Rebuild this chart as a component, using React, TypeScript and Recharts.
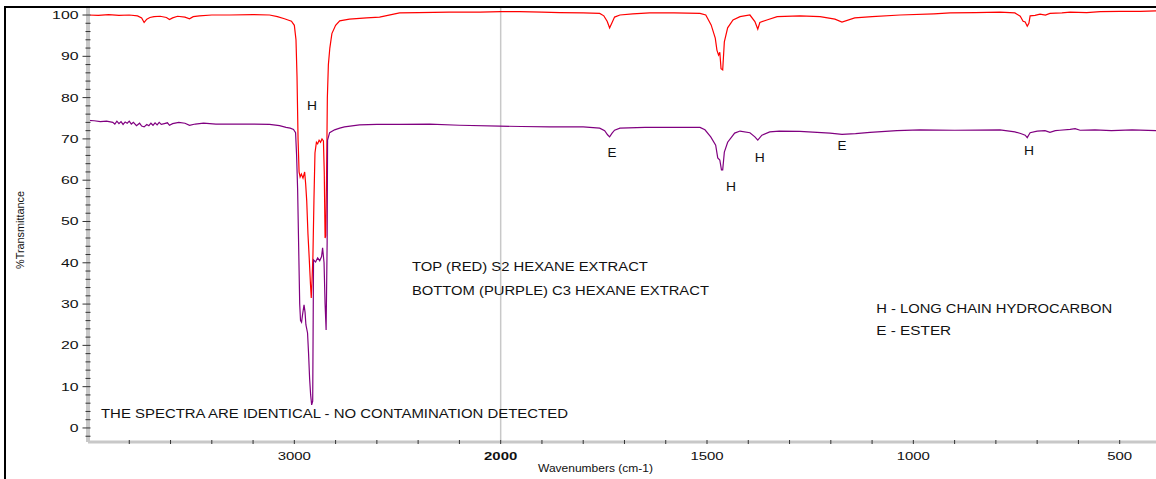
import { LineChart, Line, XAxis, YAxis, ReferenceLine, ReferenceDot } from 'recharts'

// top spectrum (red) - S2 hexane extract
const RED_WN = [
  4000, 3950, 3900, 3850, 3800, 3760, 3740, 3728, 3715, 3700, 3680, 3650, 3620, 3605, 3590, 3566,
  3530, 3508, 3490, 3460, 3400, 3314, 3200, 3120, 3082, 3048, 3014, 3000, 2992, 2987, 2982, 2977,
  2972, 2966, 2958, 2950, 2945, 2940, 2934, 2928, 2922, 2918, 2914, 2910, 2905, 2900, 2893, 2887,
  2880, 2873, 2866, 2859, 2855, 2851, 2848, 2844, 2840, 2835, 2828, 2818, 2800, 2780, 2733, 2650,
  2587, 2490, 2400, 2250, 2100, 2000, 1954, 1900, 1857, 1800, 1760, 1750, 1742, 1736, 1730, 1724,
  1711, 1680, 1639, 1580, 1517, 1503, 1490, 1480, 1476, 1472, 1469, 1466, 1462, 1458, 1450, 1437,
  1420, 1396, 1384, 1377, 1372, 1355, 1330, 1275, 1226, 1190, 1173, 1142, 1100, 1032, 950, 911,
  850, 790, 754, 741, 734, 729, 724, 720, 717, 705, 693, 680, 669, 640, 620, 580, 547, 500, 450, 412,
]
const RED_T = [
  100.0, 99.9, 100.1, 99.9, 100.0, 99.8, 99.3, 98.2, 99.0, 99.4, 99.6, 99.7, 99.4, 98.9, 99.3, 99.7,
  99.5, 99.1, 99.6, 99.8, 100.0, 100.0, 100.1, 100.0, 99.6, 99.1, 98.5, 97.5, 94, 85, 70, 62,
  60.8, 61.5, 60.5, 62, 59, 55, 47, 41.3, 35, 31.5, 36, 41.4, 55, 66.6, 69.2, 68.8,
  69.7, 69.2, 70.0, 69.5, 62, 46, 46.5, 60, 80, 88, 92, 95.5, 97.5, 98.6, 99.0, 99.3,
  99.5, 100.5, 100.6, 100.7, 100.7, 100.8, 100.8, 100.7, 100.6, 100.5, 100.4, 99.8, 98.5, 96.9, 98.2, 99.5,
  100.0, 100.3, 100.5, 100.5, 100.4, 100.0, 97.6, 94.4, 91.5, 90.3, 91, 87, 86.7, 93.5, 96.9, 98.8,
  99.6, 100.0, 98.4, 96.6, 98.2, 98.8, 99.6, 99.8, 99.6, 99.0, 98.3, 99.3, 99.6, 100.0, 100.3, 100.5,
  100.6, 100.7, 100.5, 99.7, 98.5, 98.3, 97.3, 98.0, 99.8, 99.9, 100.2, 100.0, 100.4, 100.5, 100.7, 100.6, 100.8, 100.9, 100.9, 101.0,
]

// bottom spectrum (purple) - C3 hexane extract
const PURPLE_WN = [
  4000, 3970, 3940, 3910, 3880, 3870, 3860, 3850, 3840, 3830, 3820, 3810, 3800, 3790, 3780, 3765,
  3750, 3740, 3728, 3715, 3705, 3695, 3685, 3675, 3665, 3655, 3645, 3630, 3615, 3605, 3590, 3560,
  3530, 3508, 3480, 3440, 3380, 3314, 3200, 3120, 3072, 3040, 3020, 3004, 2994, 2989, 2984, 2979,
  2974, 2970, 2965, 2960, 2953, 2948, 2944, 2936, 2931, 2926, 2921, 2916, 2911, 2907, 2897, 2887,
  2877, 2868, 2863, 2856, 2851, 2846, 2841, 2839, 2829, 2805, 2780, 2757, 2684, 2600, 2490, 2344,
  2200, 2005, 1950, 1881, 1800, 1760, 1748, 1741, 1736, 1730, 1724, 1711, 1650, 1614, 1517, 1505,
  1491, 1479, 1474, 1469, 1465, 1462, 1458, 1450, 1433, 1420, 1396, 1384, 1377, 1367, 1348, 1325,
  1275, 1202, 1173, 1140, 1105, 1040, 984, 900, 790, 754, 740, 729, 724, 720, 717, 700,
  681, 669, 656, 645, 620, 608, 596, 560, 520, 470, 412,
]
const PURPLE_T = [
  74.5, 74.4, 74.2, 74.3, 74.0, 73.6, 74.3, 73.7, 74.2, 73.5, 74.1, 73.8, 74.3, 73.6, 74.0, 73.2,
  73.8, 73.1, 72.9, 73.5, 73.2, 73.8, 73.3, 73.9, 73.4, 74.0, 73.5, 73.7, 73.9, 73.3, 73.7, 74.0,
  73.8, 73.3, 73.6, 73.8, 73.6, 73.6, 73.6, 73.5, 73.2, 72.8, 72.6, 72.3, 71.5, 66, 57.6, 43.8,
  30, 26, 25.6, 27.5, 29.8, 28, 25, 23, 18, 12, 8, 5.6, 6.5, 40.7, 40.2, 41.2,
  40.5, 41.5, 43.6, 40, 30, 23.7, 45, 69.7, 71.5, 72.2, 72.6, 72.9, 73.4, 73.5, 73.5, 73.6,
  73.3, 73.1, 73.0, 72.9, 72.9, 72.6, 72.0, 71.0, 70.5, 71.4, 72.1, 72.6, 72.8, 72.8, 72.8, 72.2,
  70.5, 68.5, 65.4, 64.9, 62.5, 62.5, 66.8, 69.2, 71.4, 71.9, 71.5, 70.5, 69.7, 70.9, 71.7, 71.9,
  71.8, 71.4, 71.1, 71.3, 71.6, 72.0, 72.2, 72.1, 72.2, 71.7, 71.3, 70.9, 70.3, 71.0, 71.5, 71.9,
  72.0, 71.6, 72.0, 72.1, 72.3, 72.5, 72.1, 72.2, 72.0, 72.2, 72.0,
]

const Y_LABELS = [0, 10, 20, 30, 40, 50, 60, 70, 80, 90, 100]
const WN_LABELS = [3000, 2000, 1500, 1000, 500]

const NOTES = [
  { text: 'H', wn: 2914, t: 78.0, w: 10, anchor: 'middle' },
  { text: 'E', wn: 1730, t: 66.8, w: 9, anchor: 'middle' },
  { text: 'H', wn: 1442, t: 58.4, w: 10, anchor: 'middle' },
  { text: 'H', wn: 1372, t: 65.4, w: 10, anchor: 'middle' },
  { text: 'E', wn: 1173, t: 68.3, w: 9, anchor: 'middle' },
  { text: 'H', wn: 720, t: 67.1, w: 10, anchor: 'middle' },
  { text: 'TOP (RED) S2 HEXANE EXTRACT', wn: 2430, t: 39.2, w: 236, anchor: 'start' },
  { text: 'BOTTOM (PURPLE) C3 HEXANE EXTRACT', wn: 2430, t: 33.2, w: 297, anchor: 'start' },
  { text: 'H - LONG CHAIN HYDROCARBON', wn: 1090, t: 29.05, w: 236, anchor: 'start' },
  { text: 'E - ESTER', wn: 1090, t: 23.5, w: 75, anchor: 'start' },
  { text: 'THE SPECTRA ARE IDENTICAL - NO CONTAMINATION DETECTED', wn: 3937, t: 3.4, w: 467, anchor: 'start' },
]

// the instrument compresses the axis above 2000 cm-1 by a factor of two
const BREAK = 2000
const toAxis = (w: number) => (w > BREAK ? BREAK + (w - BREAK) / 2 : w)
const fromAxis = (u: number) => (u > BREAK ? BREAK + (u - BREAK) * 2 : u)

const redData = RED_WN.map((w, i) => ({ u: toAxis(w), t: RED_T[i] }))
const purpleData = PURPLE_WN.map((w, i) => ({ u: toAxis(w), t: PURPLE_T[i] }))

const yTicks = Array.from({ length: 52 }, (_, i) => -2 + i * 2)
const xTicks = Array.from({ length: 25 }, (_, i) => 500 + i * 100)
const labelU = WN_LABELS.map(toAxis)

const FONT = "Arial, 'Liberation Sans', sans-serif"

const YTick = (props: any) => {
  const { x, y, payload } = props
  const v = payload.value
  const major = Y_LABELS.includes(v)
  return (
    <g>
      <line x1={major ? x - 5.5 : x - 2.5} x2={x + 2.5} y1={y} y2={y} stroke="#333" strokeWidth={1} />
      {major && (
        <text x={x - 9.5} y={y + 4} textAnchor="end" fontFamily={FONT} fontSize={11.5} fill="#111"
          textLength={String(v).length * 8.8} lengthAdjust="spacingAndGlyphs">
          {v}
        </text>
      )}
    </g>
  )
}

const XTick = (props: any) => {
  const { x, y, payload } = props
  const u = payload.value
  const major = labelU.includes(u)
  const wn = fromAxis(u)
  return (
    <g>
      <line x1={x} x2={x} y1={y - 2} y2={y + 2} stroke="#333" strokeWidth={1} />
      {major && (
        <text x={x} y={y + 18} textAnchor="middle" fontFamily={FONT} fontSize={11.5} fill="#111"
          fontWeight={wn === BREAK ? 700 : 400}
          textLength={String(wn).length * 8.3} lengthAdjust="spacingAndGlyphs">
          {wn}
        </text>
      )}
    </g>
  )
}

const YTitle = (props: any) => {
  const vb = props.viewBox || { x: 0, y: 8, width: 88, height: 434 }
  const cx = vb.x + 20
  const cy = vb.y + vb.height / 2 + 5
  return (
    <text transform={`translate(${cx},${cy}) rotate(-90)`} y={4} textAnchor="middle"
      fontFamily={FONT} fontSize={11} fill="#111" textLength={78} lengthAdjust="spacingAndGlyphs">
      %Transmittance
    </text>
  )
}

const XTitle = (props: any) => {
  const vb = props.viewBox || { x: 88, y: 442, width: 1068, height: 37 }
  return (
    <text x={vb.x + 450} y={vb.y + 30} fontFamily={FONT} fontSize={11.5} fill="#111"
      textLength={115} lengthAdjust="spacingAndGlyphs">
      Wavenumbers (cm-1)
    </text>
  )
}

export default function App() {
  return (
    <div style={{ position: 'relative', width: 1156, height: 479, overflow: 'hidden', background: '#fff' }}>
      <style>{'body{margin:0}'}</style>
      <div style={{ position: 'absolute', left: 4, top: 6, width: 1152, height: 2, background: '#000' }} />
      <div style={{ position: 'absolute', left: 4, top: 6, width: 2, height: 473, background: '#000' }} />
      <LineChart width={1156} height={479} margin={{ top: 8, right: 0, bottom: 0, left: 0 }}>
        <XAxis
          type="number"
          dataKey="u"
          domain={[412, 3000]}
          reversed
          allowDataOverflow
          ticks={xTicks}
          interval={0}
          tickSize={0}
          tickMargin={0}
          tickLine={false}
          tick={(p: any) => <XTick {...p} />}
          axisLine={{ stroke: '#c8c8c8', strokeWidth: 3 }}
          height={37}
          label={(p: any) => <XTitle {...p} />}
        />
        <YAxis
          type="number"
          domain={[-3.4, 101.7]}
          allowDataOverflow
          ticks={yTicks}
          interval={0}
          tickSize={0}
          tickMargin={0}
          tickLine={false}
          tick={(p: any) => <YTick {...p} />}
          axisLine={{ stroke: '#c8c8c8', strokeWidth: 4 }}
          width={88}
          label={(p: any) => <YTitle {...p} />}
        />
        <ReferenceLine x={BREAK} stroke="#c8c8c8" strokeWidth={1.5} />
        <Line data={redData} dataKey="t" type="linear" stroke="#ff0000" strokeWidth={1.2}
          dot={false} isAnimationActive={false} />
        <Line data={purpleData} dataKey="t" type="linear" stroke="#800080" strokeWidth={1.2}
          dot={false} isAnimationActive={false} />
        {NOTES.map((n, i) => (
          <ReferenceDot
            key={i}
            x={toAxis(n.wn)}
            y={n.t}
            r={0}
            shape={(p: any) => (
              <text x={p.cx} y={p.cy + 4.5} textAnchor={n.anchor} fontFamily={FONT} fontSize={12.5}
                fill="#111" textLength={n.w} lengthAdjust="spacingAndGlyphs">
                {n.text}
              </text>
            )}
          />
        ))}
      </LineChart>
    </div>
  )
}
